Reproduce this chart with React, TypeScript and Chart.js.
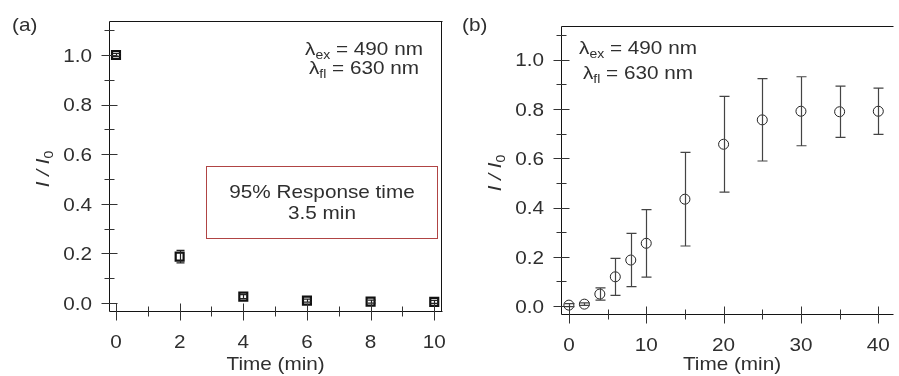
import { useEffect, useRef } from 'react';
import { Chart, registerables } from 'chart.js';

Chart.register(...registerables);

// Panel (a): fluorescence decay after quenching
const decayTime = [0, 2, 4, 6, 8, 10];
const decayRatio = [1.0, 0.187, 0.026, 0.01, 0.006, 0.005];
const decayError = [0.006, 0.025, 0.008, 0.006, 0.006, 0.006];

// Panel (b): fluorescence recovery
const recoveryTime = [0, 2, 4, 6, 8, 10, 15, 20, 25, 30, 35, 40];
const recoveryRatio = [0.004, 0.008, 0.049, 0.119, 0.187, 0.255, 0.434, 0.657, 0.756, 0.791, 0.789, 0.791];
const recoveryError = [0.006, 0.005, 0.025, 0.075, 0.108, 0.137, 0.19, 0.194, 0.167, 0.14, 0.104, 0.094];

// Axis ticks
const ratioMajorTicks = [0, 0.2, 0.4, 0.6, 0.8, 1.0];
const ratioMinorTicks = [0.1, 0.3, 0.5, 0.7, 0.9, 1.1];
const decayMajorTicks = [0, 2, 4, 6, 8, 10];
const decayMinorTicks = [1, 3, 5, 7, 9];
const recoveryMajorTicks = [0, 10, 20, 30, 40];
const recoveryMinorTicks = [5, 15, 25, 35];

const responseLines = ['95% Response time', '3.5 min'];

const FONT = '"Liberation Sans", Arial, sans-serif';
const TEXT = '#2f2f2f';
const LINE = '#141414';
const STRETCH = 1.12; // glyphs are drawn slightly wide
const SIZE = 18.5;
const SUB = 12.5;

type Part = { text: string; size: number; italic?: boolean; dy?: number };

function fontOf(p: Part) {
  return `${p.italic ? 'italic ' : ''}${p.size}px ${FONT}`;
}

function drawParts(ctx: CanvasRenderingContext2D, parts: Part[], cx: number, baseline: number, align: 'center' | 'right' | 'left' = 'center') {
  ctx.save();
  ctx.textAlign = 'left';
  ctx.textBaseline = 'alphabetic';
  ctx.fillStyle = TEXT;
  const widths = parts.map((p) => {
    ctx.font = fontOf(p);
    return ctx.measureText(p.text).width * STRETCH;
  });
  const total = widths.reduce((a, b) => a + b, 0);
  let x = align === 'center' ? cx - total / 2 : align === 'right' ? cx - total : cx;
  parts.forEach((p, i) => {
    ctx.font = fontOf(p);
    ctx.save();
    ctx.translate(x, baseline + (p.dy || 0));
    ctx.scale(STRETCH, 1);
    ctx.fillText(p.text, 0, 0);
    ctx.restore();
    x += widths[i];
  });
  ctx.restore();
}

type Decor = {
  xMajor: number[];
  xMinor: number[];
  errors: number[];
  capHalf: number;
  errColor: string;
  rightBorder: boolean;
  titleShift: number;
  tag: string;
  lambdaX: number;
  lambdaY: [number, number];
  box?: { xMin: number; xMax: number; yMin: number; yMax: number };
};

function decorPlugin(d: Decor) {
  return {
    id: 'panelDecor',
    afterDatasetsDraw(chart: any) {
      const ctx: CanvasRenderingContext2D = chart.ctx;
      const ys = chart.scales.y;
      const meta = chart.getDatasetMeta(0);
      ctx.save();
      ctx.strokeStyle = d.errColor;
      ctx.lineWidth = 1.2;
      meta.data.forEach((pt: any, i: number) => {
        const v = chart.data.datasets[0].data[i].y;
        const e = d.errors[i];
        const x = Math.round(pt.x) + 0.5;
        const top = ys.getPixelForValue(v + e);
        const bot = ys.getPixelForValue(v - e);
        ctx.beginPath();
        ctx.moveTo(x, top);
        ctx.lineTo(x, bot);
        ctx.moveTo(x - d.capHalf, top);
        ctx.lineTo(x + d.capHalf, top);
        ctx.moveTo(x - d.capHalf, bot);
        ctx.lineTo(x + d.capHalf, bot);
        ctx.stroke();
      });
      ctx.restore();
    },
    afterDraw(chart: any) {
      const ctx: CanvasRenderingContext2D = chart.ctx;
      const area = chart.chartArea;
      const xs = chart.scales.x;
      const ys = chart.scales.y;
      const L = Math.round(area.left) + 0.5;
      const R = Math.round(area.right) - 0.5;
      const T = Math.round(area.top) + 0.5;
      const B = Math.round(area.bottom) + 0.5;

      ctx.save();
      ctx.strokeStyle = LINE;
      ctx.lineWidth = 1;
      ctx.beginPath();
      ctx.moveTo(L, T);
      ctx.lineTo(R + 1, T);
      if (d.rightBorder) {
        ctx.moveTo(R, T);
        ctx.lineTo(R, B);
      }
      ctx.moveTo(L, T);
      ctx.lineTo(L, B);
      ctx.lineTo(R + 1, B);
      ctx.stroke();

      // ticks crossing the axes
      ctx.strokeStyle = '#333';
      ctx.beginPath();
      ratioMajorTicks.forEach((v) => {
        const y = Math.round(ys.getPixelForValue(v)) + 0.5;
        ctx.moveTo(L - 8, y);
        ctx.lineTo(L + 8, y);
      });
      ratioMinorTicks.forEach((v) => {
        const y = Math.round(ys.getPixelForValue(v)) + 0.5;
        ctx.moveTo(L - 5, y);
        ctx.lineTo(L + 5, y);
      });
      d.xMajor.forEach((v) => {
        const x = Math.round(xs.getPixelForValue(v)) + 0.5;
        ctx.moveTo(x, B - 8);
        ctx.lineTo(x, B + 9);
      });
      d.xMinor.forEach((v) => {
        const x = Math.round(xs.getPixelForValue(v)) + 0.5;
        ctx.moveTo(x, B - 5);
        ctx.lineTo(x, B + 5);
      });
      ctx.stroke();
      ctx.restore();

      // tick labels
      ratioMajorTicks.forEach((v) => {
        drawParts(ctx, [{ text: v.toFixed(1), size: SIZE }], area.left - 17, ys.getPixelForValue(v) + 6.7, 'right');
      });
      d.xMajor.forEach((v) => {
        drawParts(ctx, [{ text: String(v), size: SIZE }], xs.getPixelForValue(v), area.bottom + 37);
      });

      // axis titles
      drawParts(ctx, [{ text: 'Time (min)', size: SIZE }], (area.left + area.right) / 2 + d.titleShift, 370);
      ctx.save();
      ctx.translate(area.left - 60, (area.top + area.bottom) / 2 + 3);
      ctx.rotate(-Math.PI / 2);
      drawParts(ctx, [
        { text: 'I / I', size: SIZE, italic: true },
        { text: '0', size: SUB, dy: 4 },
      ], 0, 0);
      ctx.restore();

      // panel tag
      drawParts(ctx, [{ text: d.tag, size: SIZE }], 12, 31, 'left');

      // wavelength annotation
      drawParts(ctx, [
        { text: 'λ', size: SIZE },
        { text: 'ex', size: SUB, dy: 4 },
        { text: ' = 490 nm', size: SIZE },
      ], d.lambdaX, d.lambdaY[0]);
      drawParts(ctx, [
        { text: 'λ', size: SIZE },
        { text: 'fl', size: SUB, dy: 4 },
        { text: ' = 630 nm', size: SIZE },
      ], d.lambdaX, d.lambdaY[1]);

      if (d.box) {
        const bx0 = Math.round(xs.getPixelForValue(d.box.xMin)) + 0.5;
        const bx1 = Math.round(xs.getPixelForValue(d.box.xMax)) + 0.5;
        const by0 = Math.round(ys.getPixelForValue(d.box.yMax)) + 0.5;
        const by1 = Math.round(ys.getPixelForValue(d.box.yMin)) + 0.5;
        ctx.save();
        ctx.strokeStyle = '#b04444';
        ctx.lineWidth = 1;
        ctx.strokeRect(bx0, by0, bx1 - bx0, by1 - by0);
        ctx.restore();
        const cx = (bx0 + bx1) / 2;
        drawParts(ctx, [{ text: responseLines[0], size: SIZE }], cx, by0 + 31);
        drawParts(ctx, [{ text: responseLines[1], size: SIZE }], cx, by0 + 52);
      }
    },
  };
}

function makeChart(
  canvas: HTMLCanvasElement,
  xVals: number[],
  yVals: number[],
  xRange: [number, number],
  padding: { left: number; right: number; top: number; bottom: number },
  point: { style: string; radius: number; width: number; color: string },
  decor: Decor
) {
  return new Chart(canvas, {
    type: 'scatter',
    data: {
      datasets: [
        {
          data: xVals.map((x, i) => ({ x, y: yVals[i] })),
          showLine: false,
          pointStyle: point.style as any,
          pointRadius: point.radius,
          pointHoverRadius: point.radius,
          pointBorderWidth: point.width,
          pointBorderColor: point.color,
          pointBackgroundColor: 'rgba(255,255,255,0)',
        },
      ],
    },
    options: {
      animation: false,
      responsive: false,
      devicePixelRatio: 1,
      events: [],
      layout: { padding },
      plugins: { legend: { display: false }, tooltip: { enabled: false } },
      scales: {
        x: { type: 'linear', display: false, min: xRange[0], max: xRange[1] },
        y: { type: 'linear', display: false, min: -0.032, max: 1.137 },
      },
    },
    plugins: [decorPlugin(decor)],
  });
}

export default function App() {
  const refA = useRef<HTMLCanvasElement>(null);
  const refB = useRef<HTMLCanvasElement>(null);

  useEffect(() => {
    const a = makeChart(
      refA.current!,
      decayTime,
      decayRatio,
      [-0.22, 10.25],
      { left: 109, right: 4, top: 21, bottom: 65 },
      { style: 'rect', radius: 5.6, width: 2.2, color: '#111' },
      {
        xMajor: decayMajorTicks,
        xMinor: decayMinorTicks,
        errors: decayError,
        capHalf: 4,
        errColor: '#222',
        rightBorder: true,
        titleShift: 0,
        tag: '(a)',
        lambdaX: 364,
        lambdaY: [55, 74],
        box: { xMin: 2.84, xMax: 10.08, yMin: 0.261, yMax: 0.552 },
      }
    );
    const b = makeChart(
      refB.current!,
      recoveryTime,
      recoveryRatio,
      [-1.02, 41.9],
      { left: 111, right: 0, top: 26, bottom: 62 },
      { style: 'circle', radius: 5, width: 1, color: '#222' },
      {
        xMajor: recoveryMajorTicks,
        xMinor: recoveryMinorTicks,
        errors: recoveryError,
        capHalf: 5,
        errColor: '#444',
        rightBorder: false,
        titleShift: 5,
        tag: '(b)',
        lambdaX: 188,
        lambdaY: [53.5, 79],
      }
    );
    return () => {
      a.destroy();
      b.destroy();
    };
  }, []);

  return (
    <div style={{ position: 'fixed', left: 0, top: 0, width: 899, height: 376, background: '#fff', overflow: 'hidden' }}>
      <canvas ref={refA} width={450} height={376} style={{ position: 'absolute', left: 0, top: 0, width: 450, height: 376 }} />
      <canvas ref={refB} width={449} height={376} style={{ position: 'absolute', left: 450, top: 0, width: 449, height: 376 }} />
    </div>
  );
}
